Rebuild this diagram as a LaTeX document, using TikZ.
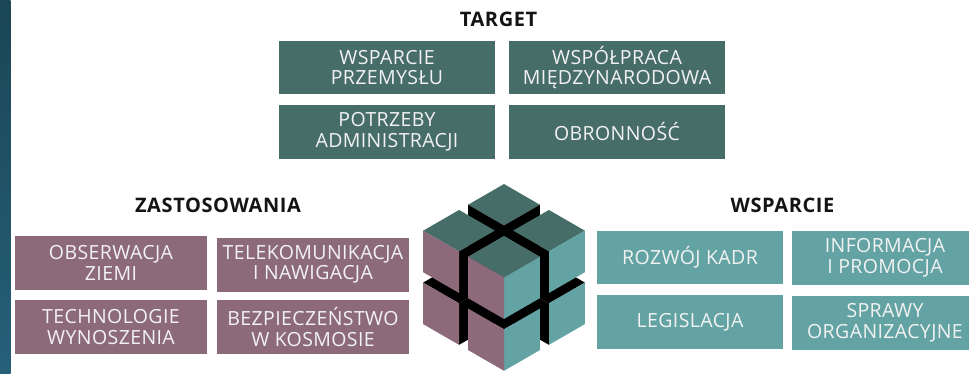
\documentclass[tikz,border=0pt]{standalone}
\usepackage{fontspec}
\setmainfont{Open Sans}
\newfontfamily\cardfont[LetterSpace=2]{Open Sans}
\newfontfamily\headfont[LetterSpace=3]{Open Sans}
\definecolor{tgt}{HTML}{476D68}
\definecolor{zas}{HTML}{8C6A7A}
\definecolor{wsp}{HTML}{63A3A4}
\definecolor{boxtxt}{HTML}{F2F2F2}
\definecolor{stripA}{HTML}{1A4655}
\definecolor{stripB}{HTML}{266079}
\newcommand{\isocube}[6]{%
  \fill[#4] (#1,#2,#3+1) -- (#1+1,#2,#3+1) -- (#1+1,#2+1,#3+1) -- (#1,#2+1,#3+1) -- cycle;
  \fill[#5] (#1+1,#2,#3) -- (#1+1,#2+1,#3) -- (#1+1,#2+1,#3+1) -- (#1+1,#2,#3+1) -- cycle;
  \fill[#6] (#1,#2+1,#3) -- (#1+1,#2+1,#3) -- (#1+1,#2+1,#3+1) -- (#1,#2+1,#3+1) -- cycle;
}
\begin{document}
\begin{tikzpicture}[x=1pt,y=-1pt,
  card/.style={text=boxtxt, align=center, inner sep=0pt,
    font=\cardfont\fontsize{19.5}{20.5}\selectfont},
  tcard/.style={card, fill=tgt, minimum width=216pt, minimum height=53.5pt},
  zcard/.style={card, fill=zas, minimum width=192pt, minimum height=54pt},
  wcard/.style={card, fill=wsp, minimum width=186pt, minimum height=53.5pt},
  head/.style={font=\headfont\fontsize{20}{22}\selectfont\bfseries, text=black!92, inner sep=0pt}]
\useasboundingbox (0,0) rectangle (969,373);
\clip (0,0) rectangle (969,373);
\fill[white] (0,0) rectangle (969,373);
\shade[top color=stripA, bottom color=stripB] (0,0) rectangle (10.5,373);

% headings
\node[head] (hT) at (498.5,19.5) {TARGET};
\node[head] (hZ) at (218,205) {ZASTOSOWANIA};
\node[head] (hW) at (782.5,205) {WSPARCIE};

% target cards
\node[tcard] (t1) at (387,67.5) {WSPARCIE\\PRZEMYSŁU};
\node[tcard] (t2) at (617,67.5) {WSPÓŁPRACA\\MIĘDZYNARODOWA};
\node[tcard] (t3) at (387,132) {POTRZEBY\\ADMINISTRACJI};
\node[tcard] (t4) at (617,132) {OBRONNOŚĆ};

% zastosowania cards
\node[zcard] (z1) at (111,263) {OBSERWACJA\\ZIEMI};
\node[zcard] (z2) at (313,264.5) {TELEKOMUNIKACJA\\I NAWIGACJA};
\node[zcard] (z3) at (111,327) {TECHNOLOGIE\\WYNOSZENIA};
\node[zcard] (z4) at (313,327) {BEZPIECZEŃSTWO\\W KOSMOSIE};

% wsparcie cards
\node[wcard] (w1) at (690,257.5) {ROZWÓJ KADR};
\node[wcard] (w2) at (885,258) {INFORMACJA\\I PROMOCJA};
\node[wcard] (w3) at (690,322) {LEGISLACJA};
\node[wcard] (w4) at (885,323) {SPRAWY\\ORGANIZACYJNE};

% cube
\begin{scope}[shift={(504,277.4)}]
\begin{scope}[x={(35.94pt,-20.75pt)}, y={(-35.94pt,-20.75pt)}, z={(0pt,41.5pt)}]
\isocube{0}{0}{0}{black}{black}{black}
\isocube{1.25}{0}{0}{black}{wsp}{black}
\isocube{0}{1.25}{0}{black}{black}{zas}
\isocube{0}{0}{1.25}{tgt}{black}{black}
\isocube{1.25}{1.25}{0}{black}{wsp}{zas}
\isocube{1.25}{0}{1.25}{tgt}{wsp}{black}
\isocube{0}{1.25}{1.25}{tgt}{black}{zas}
\isocube{1.25}{1.25}{1.25}{tgt}{wsp}{zas}
\end{scope}
\end{scope}
\end{tikzpicture}
\end{document}
